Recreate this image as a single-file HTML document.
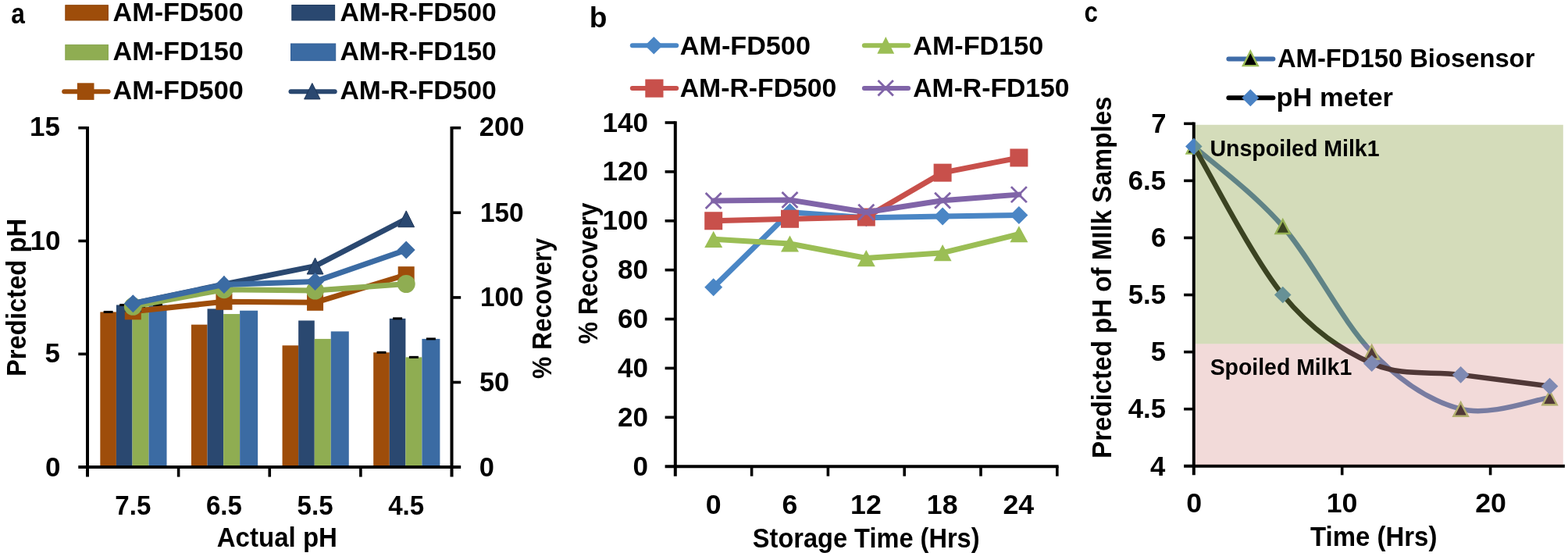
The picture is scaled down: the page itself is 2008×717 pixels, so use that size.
<!DOCTYPE html>
<html lang="en">
<head>
<meta charset="utf-8">
<title>Figure</title>
<style>
html,body{margin:0;padding:0;background:#fff;}
body{width:2008px;height:717px;overflow:hidden;}
svg{display:block;}
svg text{font-family:'Liberation Sans', sans-serif;font-weight:bold;}
</style>
</head>
<body>
<svg width="2008" height="717" viewBox="0 0 2008 717">
<rect x="0" y="0" width="2008" height="717" fill="#fff"/>
<g id="panel-a">
<text x="14.17" y="29.50" font-size="37.5" textLength="17.63" lengthAdjust="spacingAndGlyphs">a</text>
<rect x="83.80" y="6.70" width="54.60" height="19.30" fill="#9E4D0A" stroke="#8C4206" stroke-width="1"/>
<rect x="83.80" y="57.40" width="54.60" height="19.30" fill="#8FAD52" stroke="#86A34C" stroke-width="1"/>
<line x1="82.20" y1="117.20" x2="138.60" y2="117.20" stroke="#9E4D0A" stroke-width="6" stroke-linecap="round"/>
<rect x="98.90" y="106.30" width="21.60" height="21.60" fill="#9E4D0A" />
<rect x="373.80" y="6.50" width="54.80" height="19.50" fill="#2A4870" stroke="#213C60" stroke-width="1"/>
<rect x="372.50" y="56.00" width="57.20" height="21.60" fill="#3B6BA3" stroke="#335F96" stroke-width="1"/>
<line x1="372.50" y1="117.20" x2="428.70" y2="117.20" stroke="#2A4870" stroke-width="6" stroke-linecap="round"/>
<polygon points="389.60,126.90 399.80,106.50 410.00,126.90" fill="#2A4870" stroke="#1E3658" stroke-width="1"/>
<text x="144.45" y="26.60" font-size="33.5" textLength="167.25" lengthAdjust="spacingAndGlyphs">AM-FD500</text>
<text x="144.45" y="77.10" font-size="33.5" textLength="167.25" lengthAdjust="spacingAndGlyphs">AM-FD150</text>
<text x="144.45" y="127.40" font-size="33.5" textLength="167.25" lengthAdjust="spacingAndGlyphs">AM-FD500</text>
<text x="435.46" y="26.60" font-size="33.5" textLength="200.42" lengthAdjust="spacingAndGlyphs">AM-R-FD500</text>
<text x="435.46" y="77.10" font-size="33.5" textLength="200.42" lengthAdjust="spacingAndGlyphs">AM-R-FD150</text>
<text x="435.46" y="127.40" font-size="33.5" textLength="200.42" lengthAdjust="spacingAndGlyphs">AM-R-FD500</text>
<rect x="128.31" y="399.43" width="20.60" height="198.67" fill="#9E4D0A" />
<rect x="148.91" y="390.46" width="20.60" height="207.64" fill="#2A4870" />
<rect x="169.51" y="392.48" width="21.00" height="205.62" fill="#8FAD52" />
<rect x="190.51" y="390.46" width="23.00" height="207.64" fill="#3B6BA3" />
<line x1="132.61" y1="399.43" x2="144.61" y2="399.43" stroke="#000" stroke-width="3"/>
<line x1="153.21" y1="390.46" x2="165.21" y2="390.46" stroke="#000" stroke-width="3"/>
<line x1="174.01" y1="392.48" x2="186.01" y2="392.48" stroke="#000" stroke-width="3"/>
<line x1="196.01" y1="390.46" x2="208.01" y2="390.46" stroke="#000" stroke-width="3"/>
<rect x="244.94" y="415.65" width="20.60" height="182.45" fill="#9E4D0A" />
<rect x="265.54" y="395.38" width="20.60" height="202.72" fill="#2A4870" />
<rect x="286.14" y="402.04" width="21.00" height="196.06" fill="#8FAD52" />
<rect x="307.14" y="397.70" width="23.00" height="200.40" fill="#3B6BA3" />
<rect x="361.56" y="442.30" width="20.60" height="155.80" fill="#9E4D0A" />
<rect x="382.16" y="410.44" width="20.60" height="187.66" fill="#2A4870" />
<rect x="402.76" y="433.90" width="21.00" height="164.20" fill="#8FAD52" />
<rect x="423.76" y="424.34" width="23.00" height="173.76" fill="#3B6BA3" />
<rect x="478.19" y="451.27" width="20.60" height="146.83" fill="#9E4D0A" />
<rect x="498.79" y="407.83" width="20.60" height="190.27" fill="#2A4870" />
<rect x="519.39" y="457.35" width="21.00" height="140.75" fill="#8FAD52" />
<rect x="540.39" y="433.90" width="23.00" height="164.20" fill="#3B6BA3" />
<line x1="482.49" y1="451.27" x2="494.49" y2="451.27" stroke="#000" stroke-width="3"/>
<line x1="503.09" y1="407.83" x2="515.09" y2="407.83" stroke="#000" stroke-width="3"/>
<line x1="523.89" y1="457.35" x2="535.89" y2="457.35" stroke="#000" stroke-width="3"/>
<line x1="545.89" y1="433.90" x2="557.89" y2="433.90" stroke="#000" stroke-width="3"/>
<line x1="112.00" y1="161.90" x2="112.00" y2="610.60" stroke="#000" stroke-width="4.0"/>
<line x1="578.50" y1="161.90" x2="578.50" y2="610.60" stroke="#000" stroke-width="4.0"/>
<line x1="100.30" y1="598.10" x2="590.20" y2="598.10" stroke="#000" stroke-width="4.0"/>
<line x1="100.30" y1="453.30" x2="112.00" y2="453.30" stroke="#000" stroke-width="3.6"/>
<line x1="100.30" y1="308.50" x2="112.00" y2="308.50" stroke="#000" stroke-width="3.6"/>
<line x1="100.30" y1="163.70" x2="112.00" y2="163.70" stroke="#000" stroke-width="3.6"/>
<line x1="578.50" y1="489.50" x2="590.20" y2="489.50" stroke="#000" stroke-width="3.6"/>
<line x1="578.50" y1="380.90" x2="590.20" y2="380.90" stroke="#000" stroke-width="3.6"/>
<line x1="578.50" y1="272.30" x2="590.20" y2="272.30" stroke="#000" stroke-width="3.6"/>
<line x1="578.50" y1="163.70" x2="590.20" y2="163.70" stroke="#000" stroke-width="3.6"/>
<line x1="228.62" y1="598.10" x2="228.62" y2="610.60" stroke="#000" stroke-width="3.6"/>
<line x1="345.25" y1="598.10" x2="345.25" y2="610.60" stroke="#000" stroke-width="3.6"/>
<line x1="461.88" y1="598.10" x2="461.88" y2="610.60" stroke="#000" stroke-width="3.6"/>
<polyline points="170.31,398.80 286.94,386.30 403.56,387.30 520.19,351.70" fill="none" stroke="#9E4D0A" stroke-width="7.0" stroke-linejoin="round" stroke-linecap="round" />
<rect x="159.81" y="388.30" width="21.00" height="21.00" fill="#9E4D0A" />
<rect x="276.44" y="375.80" width="21.00" height="21.00" fill="#9E4D0A" />
<rect x="393.06" y="376.80" width="21.00" height="21.00" fill="#9E4D0A" />
<rect x="509.69" y="341.20" width="21.00" height="21.00" fill="#9E4D0A" />
<polyline points="170.31,388.50 286.94,364.00 403.56,340.60 520.19,280.30" fill="none" stroke="#2A4870" stroke-width="7.0" stroke-linejoin="round" stroke-linecap="round" />
<polygon points="159.91,398.90 170.31,378.10 180.71,398.90" fill="#2A4870" stroke="#1E3658" stroke-width="1"/>
<polygon points="276.54,374.40 286.94,353.60 297.34,374.40" fill="#2A4870" stroke="#1E3658" stroke-width="1"/>
<polygon points="393.16,351.00 403.56,330.20 413.96,351.00" fill="#2A4870" stroke="#1E3658" stroke-width="1"/>
<polygon points="509.79,290.70 520.19,269.90 530.59,290.70" fill="#2A4870" stroke="#1E3658" stroke-width="1"/>
<polyline points="170.31,392.30 286.94,370.70 403.56,372.00 520.19,363.50" fill="none" stroke="#8FAD52" stroke-width="7.0" stroke-linejoin="round" stroke-linecap="round" />
<circle cx="170.31" cy="392.30" r="11.50" fill="#8FAD52" />
<circle cx="286.94" cy="370.70" r="11.50" fill="#8FAD52" />
<circle cx="403.56" cy="372.00" r="11.50" fill="#8FAD52" />
<circle cx="520.19" cy="363.50" r="11.50" fill="#8FAD52" />
<polyline points="170.31,388.80 286.94,364.40 403.56,360.40 520.19,320.00" fill="none" stroke="#3B6BA3" stroke-width="7.0" stroke-linejoin="round" stroke-linecap="round" />
<polygon points="158.81,388.80 170.31,377.30 181.81,388.80 170.31,400.30" fill="#3B6BA3" />
<polygon points="275.44,364.40 286.94,352.90 298.44,364.40 286.94,375.90" fill="#3B6BA3" />
<polygon points="392.06,360.40 403.56,348.90 415.06,360.40 403.56,371.90" fill="#3B6BA3" />
<polygon points="508.69,320.00 520.19,308.50 531.69,320.00 520.19,331.50" fill="#3B6BA3" />
<text x="38.04" y="174.20" font-size="35" textLength="38.93" lengthAdjust="spacingAndGlyphs">15</text>
<text x="38.50" y="320.00" font-size="35" textLength="38.93" lengthAdjust="spacingAndGlyphs">10</text>
<text x="57.51" y="464.20" font-size="35" textLength="19.47" lengthAdjust="spacingAndGlyphs">5</text>
<text x="57.97" y="610.00" font-size="35" textLength="19.47" lengthAdjust="spacingAndGlyphs">0</text>
<text x="613.80" y="174.30" font-size="35" textLength="57.52" lengthAdjust="spacingAndGlyphs">200</text>
<text x="614.90" y="283.80" font-size="35" textLength="55.67" lengthAdjust="spacingAndGlyphs">150</text>
<text x="614.90" y="392.00" font-size="35" textLength="55.67" lengthAdjust="spacingAndGlyphs">100</text>
<text x="613.94" y="500.90" font-size="35" textLength="38.35" lengthAdjust="spacingAndGlyphs">50</text>
<text x="613.64" y="610.00" font-size="35" textLength="19.17" lengthAdjust="spacingAndGlyphs">0</text>
<text x="170.31" y="659.00" font-size="35" textLength="46.00" lengthAdjust="spacingAndGlyphs" text-anchor="middle">7.5</text>
<text x="286.94" y="659.00" font-size="35" textLength="46.00" lengthAdjust="spacingAndGlyphs" text-anchor="middle">6.5</text>
<text x="403.56" y="659.00" font-size="35" textLength="46.00" lengthAdjust="spacingAndGlyphs" text-anchor="middle">5.5</text>
<text x="520.19" y="659.00" font-size="35" textLength="46.00" lengthAdjust="spacingAndGlyphs" text-anchor="middle">4.5</text>
<text x="277.78" y="699.70" font-size="34.5" textLength="154.15" lengthAdjust="spacingAndGlyphs">Actual pH</text>
<text x="33.40" y="481.99" font-size="35" textLength="202.20" lengthAdjust="spacingAndGlyphs" transform="rotate(-90 33.40 481.99)">Predicted pH</text>
<text x="705.60" y="485.09" font-size="35" textLength="180.26" lengthAdjust="spacingAndGlyphs" transform="rotate(-90 705.60 485.09)">% Recovery</text>
</g>
<g id="panel-b">
<text x="754.85" y="35.00" font-size="37.5" textLength="22.67" lengthAdjust="spacingAndGlyphs">b</text>
<line x1="809.80" y1="58.20" x2="866.20" y2="58.20" stroke="#4A86C5" stroke-width="6" stroke-linecap="round"/>
<polygon points="826.00,58.20 837.30,46.90 848.60,58.20 837.30,69.50" fill="#4A86C5" />
<line x1="809.80" y1="113.10" x2="866.20" y2="113.10" stroke="#C8504B" stroke-width="6" stroke-linecap="round"/>
<rect x="826.30" y="101.50" width="23.20" height="23.20" fill="#C8504B" />
<line x1="1106.90" y1="58.20" x2="1163.10" y2="58.20" stroke="#9BBE55" stroke-width="6" stroke-linecap="round"/>
<polygon points="1123.40,68.70 1134.30,46.90 1145.20,68.70" fill="#9BBE55" />
<line x1="1106.90" y1="113.10" x2="1163.10" y2="113.10" stroke="#8064A8" stroke-width="6" stroke-linecap="round"/>
<path d="M1124.50 103.10L1143.90 122.50M1124.50 122.50L1143.90 103.10" stroke="#8064A8" stroke-width="2.8" fill="none"/>
<text x="870.75" y="69.80" font-size="33.5" textLength="167.15" lengthAdjust="spacingAndGlyphs">AM-FD500</text>
<text x="870.76" y="123.60" font-size="33.5" textLength="200.62" lengthAdjust="spacingAndGlyphs">AM-R-FD500</text>
<text x="1169.25" y="69.80" font-size="33.5" textLength="166.95" lengthAdjust="spacingAndGlyphs">AM-FD150</text>
<text x="1169.26" y="123.60" font-size="33.5" textLength="200.22" lengthAdjust="spacingAndGlyphs">AM-R-FD150</text>
<line x1="864.80" y1="155.20" x2="864.80" y2="609.70" stroke="#000" stroke-width="4.0"/>
<line x1="851.60" y1="597.20" x2="1355.60" y2="597.20" stroke="#000" stroke-width="4.0"/>
<line x1="851.60" y1="534.31" x2="864.80" y2="534.31" stroke="#000" stroke-width="3.6"/>
<line x1="851.60" y1="471.43" x2="864.80" y2="471.43" stroke="#000" stroke-width="3.6"/>
<line x1="851.60" y1="408.54" x2="864.80" y2="408.54" stroke="#000" stroke-width="3.6"/>
<line x1="851.60" y1="345.66" x2="864.80" y2="345.66" stroke="#000" stroke-width="3.6"/>
<line x1="851.60" y1="282.77" x2="864.80" y2="282.77" stroke="#000" stroke-width="3.6"/>
<line x1="851.60" y1="219.89" x2="864.80" y2="219.89" stroke="#000" stroke-width="3.6"/>
<line x1="851.60" y1="157.00" x2="864.80" y2="157.00" stroke="#000" stroke-width="3.6"/>
<line x1="962.60" y1="597.20" x2="962.60" y2="609.70" stroke="#000" stroke-width="3.6"/>
<line x1="1060.40" y1="597.20" x2="1060.40" y2="609.70" stroke="#000" stroke-width="3.6"/>
<line x1="1158.20" y1="597.20" x2="1158.20" y2="609.70" stroke="#000" stroke-width="3.6"/>
<line x1="1256.00" y1="597.20" x2="1256.00" y2="609.70" stroke="#000" stroke-width="3.6"/>
<line x1="1353.80" y1="597.20" x2="1353.80" y2="609.70" stroke="#000" stroke-width="3.6"/>
<polyline points="913.70,367.67 1011.50,271.77 1109.30,278.68 1207.10,277.11 1304.90,275.54" fill="none" stroke="#4A86C5" stroke-width="7.0" stroke-linejoin="round" stroke-linecap="round" />
<polygon points="902.20,367.67 913.70,356.17 925.20,367.67 913.70,379.17" fill="#4A86C5" />
<polygon points="1000.00,271.77 1011.50,260.27 1023.00,271.77 1011.50,283.27" fill="#4A86C5" />
<polygon points="1097.80,278.68 1109.30,267.18 1120.80,278.68 1109.30,290.18" fill="#4A86C5" />
<polygon points="1195.60,277.11 1207.10,265.61 1218.60,277.11 1207.10,288.61" fill="#4A86C5" />
<polygon points="1293.40,275.54 1304.90,264.04 1316.40,275.54 1304.90,287.04" fill="#4A86C5" />
<polyline points="913.70,282.77 1011.50,280.26 1109.30,278.06 1207.10,221.14 1304.90,201.96" fill="none" stroke="#C8504B" stroke-width="7.0" stroke-linejoin="round" stroke-linecap="round" />
<rect x="902.20" y="271.27" width="23.00" height="23.00" fill="#C8504B" />
<rect x="1000.00" y="268.76" width="23.00" height="23.00" fill="#C8504B" />
<rect x="1097.80" y="266.56" width="23.00" height="23.00" fill="#C8504B" />
<rect x="1195.60" y="209.64" width="23.00" height="23.00" fill="#C8504B" />
<rect x="1293.40" y="190.46" width="23.00" height="23.00" fill="#C8504B" />
<polyline points="913.70,306.35 1011.50,312.01 1109.30,330.56 1207.10,323.65 1304.90,299.75" fill="none" stroke="#9BBE55" stroke-width="7.0" stroke-linejoin="round" stroke-linecap="round" />
<polygon points="902.20,316.95 913.70,295.75 925.20,316.95" fill="#9BBE55" />
<polygon points="1000.00,322.61 1011.50,301.41 1023.00,322.61" fill="#9BBE55" />
<polygon points="1097.80,341.16 1109.30,319.96 1120.80,341.16" fill="#9BBE55" />
<polygon points="1195.60,334.25 1207.10,313.05 1218.60,334.25" fill="#9BBE55" />
<polygon points="1293.40,310.35 1304.90,289.15 1316.40,310.35" fill="#9BBE55" />
<polyline points="913.70,256.99 1011.50,256.05 1109.30,271.77 1207.10,256.67 1304.90,249.13" fill="none" stroke="#8064A8" stroke-width="7.0" stroke-linejoin="round" stroke-linecap="round" />
<path d="M903.70 246.99L923.70 266.99M903.70 266.99L923.70 246.99" stroke="#8064A8" stroke-width="2.8" fill="none"/>
<path d="M1001.50 246.05L1021.50 266.05M1001.50 266.05L1021.50 246.05" stroke="#8064A8" stroke-width="2.8" fill="none"/>
<path d="M1099.30 261.77L1119.30 281.77M1099.30 281.77L1119.30 261.77" stroke="#8064A8" stroke-width="2.8" fill="none"/>
<path d="M1197.10 246.67L1217.10 266.67M1197.10 266.67L1217.10 246.67" stroke="#8064A8" stroke-width="2.8" fill="none"/>
<path d="M1294.90 239.13L1314.90 259.13M1294.90 259.13L1314.90 239.13" stroke="#8064A8" stroke-width="2.8" fill="none"/>
<text x="810.47" y="608.70" font-size="35" textLength="19.47" lengthAdjust="spacingAndGlyphs">0</text>
<text x="791.00" y="545.81" font-size="35" textLength="38.93" lengthAdjust="spacingAndGlyphs">20</text>
<text x="791.00" y="482.93" font-size="35" textLength="38.93" lengthAdjust="spacingAndGlyphs">40</text>
<text x="791.00" y="420.04" font-size="35" textLength="38.93" lengthAdjust="spacingAndGlyphs">60</text>
<text x="791.00" y="357.16" font-size="35" textLength="38.93" lengthAdjust="spacingAndGlyphs">80</text>
<text x="771.54" y="294.27" font-size="35" textLength="58.40" lengthAdjust="spacingAndGlyphs">100</text>
<text x="771.54" y="231.39" font-size="35" textLength="58.40" lengthAdjust="spacingAndGlyphs">120</text>
<text x="771.54" y="168.50" font-size="35" textLength="58.40" lengthAdjust="spacingAndGlyphs">140</text>
<text x="903.70" y="657.60" font-size="35" textLength="19.85" lengthAdjust="spacingAndGlyphs">0</text>
<text x="1001.46" y="657.60" font-size="35" textLength="19.85" lengthAdjust="spacingAndGlyphs">6</text>
<text x="1089.14" y="657.60" font-size="35" textLength="39.71" lengthAdjust="spacingAndGlyphs">12</text>
<text x="1186.87" y="657.60" font-size="35" textLength="39.71" lengthAdjust="spacingAndGlyphs">18</text>
<text x="1284.42" y="657.60" font-size="35" textLength="39.71" lengthAdjust="spacingAndGlyphs">24</text>
<text x="963.86" y="700.60" font-size="34.5" textLength="290.65" lengthAdjust="spacingAndGlyphs">Storage Time (Hrs)</text>
<text x="765.40" y="440.39" font-size="35" textLength="180.97" lengthAdjust="spacingAndGlyphs" transform="rotate(-90 765.40 440.39)">% Recovery</text>
</g>
<g id="panel-c">
<text x="1388.38" y="28.00" font-size="37.5" textLength="17.33" lengthAdjust="spacingAndGlyphs">c</text>
<line x1="1528.80" y1="156.50" x2="1528.80" y2="608.30" stroke="#000" stroke-width="4.0"/>
<line x1="1516.10" y1="596.80" x2="2003.90" y2="596.80" stroke="#000" stroke-width="4.0"/>
<line x1="1516.10" y1="523.72" x2="1528.80" y2="523.72" stroke="#000" stroke-width="3.6"/>
<line x1="1516.10" y1="450.63" x2="1528.80" y2="450.63" stroke="#000" stroke-width="3.6"/>
<line x1="1516.10" y1="377.55" x2="1528.80" y2="377.55" stroke="#000" stroke-width="3.6"/>
<line x1="1516.10" y1="304.47" x2="1528.80" y2="304.47" stroke="#000" stroke-width="3.6"/>
<line x1="1516.10" y1="231.38" x2="1528.80" y2="231.38" stroke="#000" stroke-width="3.6"/>
<line x1="1516.10" y1="158.30" x2="1528.80" y2="158.30" stroke="#000" stroke-width="3.6"/>
<line x1="1718.70" y1="596.80" x2="1718.70" y2="608.30" stroke="#000" stroke-width="3.6"/>
<line x1="1908.60" y1="596.80" x2="1908.60" y2="608.30" stroke="#000" stroke-width="3.6"/>
<path d="M1528.80 187.53C1547.79 204.59 1604.76 246.00 1642.74 289.85C1680.72 333.70 1718.70 411.66 1756.68 450.63C1794.66 489.61 1832.64 513.97 1870.62 523.72C1908.60 533.46 1965.57 511.54 1984.56 509.10" fill="none" stroke="#3F6CA8" stroke-width="6.5" stroke-linecap="round"/>
<polygon points="1519.60,196.63 1528.80,179.03 1538.00,196.63" fill="#000" stroke="#9BBB59" stroke-width="2.4"/>
<polygon points="1633.54,298.95 1642.74,281.35 1651.94,298.95" fill="#000" stroke="#9BBB59" stroke-width="2.4"/>
<polygon points="1747.48,459.73 1756.68,442.13 1765.88,459.73" fill="#000" stroke="#9BBB59" stroke-width="2.4"/>
<polygon points="1861.42,532.82 1870.62,515.22 1879.82,532.82" fill="#000" stroke="#9BBB59" stroke-width="2.4"/>
<polygon points="1975.36,518.20 1984.56,500.60 1993.76,518.20" fill="#000" stroke="#9BBB59" stroke-width="2.4"/>
<path d="M1528.80 187.53C1547.79 219.20 1604.76 331.26 1642.74 377.55C1680.72 423.84 1718.70 448.20 1756.68 465.25C1794.66 482.30 1832.64 474.99 1870.62 479.87C1908.60 484.74 1965.57 492.05 1984.56 494.48" fill="none" stroke="#000" stroke-width="6.5" stroke-linecap="round"/>
<polygon points="1518.00,187.53 1528.80,176.73 1539.60,187.53 1528.80,198.33" fill="#4A82C4" />
<polygon points="1631.94,377.55 1642.74,366.75 1653.54,377.55 1642.74,388.35" fill="#4A82C4" />
<polygon points="1745.88,465.25 1756.68,454.45 1767.48,465.25 1756.68,476.05" fill="#4A82C4" />
<polygon points="1859.82,479.87 1870.62,469.07 1881.42,479.87 1870.62,490.67" fill="#4A82C4" />
<polygon points="1973.76,494.48 1984.56,483.68 1995.36,494.48 1984.56,505.28" fill="#4A82C4" />
<rect x="1530.80" y="159.80" width="471.00" height="280.50" fill="#94A852" fill-opacity="0.40"/>
<rect x="1530.80" y="440.30" width="471.00" height="154.70" fill="#DC9A96" fill-opacity="0.365"/>
<text x="1472.92" y="608.50" font-size="35" textLength="19.27" lengthAdjust="spacingAndGlyphs">4</text>
<text x="1444.80" y="535.42" font-size="35" textLength="48.17" lengthAdjust="spacingAndGlyphs">4.5</text>
<text x="1473.69" y="462.33" font-size="35" textLength="19.27" lengthAdjust="spacingAndGlyphs">5</text>
<text x="1444.80" y="389.25" font-size="35" textLength="48.17" lengthAdjust="spacingAndGlyphs">5.5</text>
<text x="1473.98" y="316.17" font-size="35" textLength="19.27" lengthAdjust="spacingAndGlyphs">6</text>
<text x="1444.80" y="243.08" font-size="35" textLength="48.17" lengthAdjust="spacingAndGlyphs">6.5</text>
<text x="1474.25" y="170.00" font-size="35" textLength="19.27" lengthAdjust="spacingAndGlyphs">7</text>
<text x="1519.20" y="656.20" font-size="35" textLength="19.85" lengthAdjust="spacingAndGlyphs">0</text>
<text x="1698.75" y="656.20" font-size="35" textLength="39.71" lengthAdjust="spacingAndGlyphs">10</text>
<text x="1889.16" y="656.20" font-size="35" textLength="39.71" lengthAdjust="spacingAndGlyphs">20</text>
<text x="1678.03" y="699.40" font-size="34.5" textLength="162.40" lengthAdjust="spacingAndGlyphs">Time (Hrs)</text>
<text x="1423.40" y="586.91" font-size="35" textLength="463.37" lengthAdjust="spacingAndGlyphs" transform="rotate(-90 1423.40 586.91)">Predicted pH of MIlk Samples</text>
<line x1="1573.40" y1="75.50" x2="1630.40" y2="75.50" stroke="#3F6CA8" stroke-width="6" stroke-linecap="round"/>
<polygon points="1591.90,84.10 1601.30,65.70 1610.70,84.10" fill="#000" stroke="#9BBB59" stroke-width="2.4"/>
<line x1="1573.40" y1="125.30" x2="1630.40" y2="125.30" stroke="#000" stroke-width="6" stroke-linecap="round"/>
<polygon points="1590.30,125.30 1601.30,114.30 1612.30,125.30 1601.30,136.30" fill="#4A82C4" />
<text x="1635.98" y="85.50" font-size="33.5" textLength="329.41" lengthAdjust="spacingAndGlyphs">AM-FD150 Biosensor</text>
<text x="1634.53" y="135.70" font-size="33.5" textLength="149.50" lengthAdjust="spacingAndGlyphs">pH meter</text>
<text x="1549.49" y="200.00" font-size="29.4" textLength="217.11" lengthAdjust="spacingAndGlyphs">Unspoiled Milk1</text>
<text x="1549.68" y="480.30" font-size="29.4" textLength="181.51" lengthAdjust="spacingAndGlyphs">Spoiled Milk1</text>
</g>
</svg>
</body>
</html>
